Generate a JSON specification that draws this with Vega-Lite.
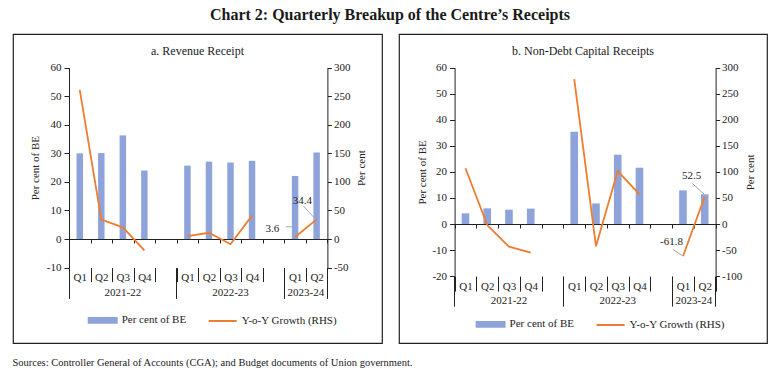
{
  "$schema": "https://vega.github.io/schema/vega-lite/v6.json",
  "background": "white",
  "padding": {"left": 12, "top": 7, "right": 5, "bottom": 5},
  "config": {
    "font": "Liberation Serif",
    "locale": {"number": {"decimal": ".", "thousands": ",", "grouping": [3], "currency": ["", ""], "minus": "-"}},
    "view": {"stroke": "#222", "strokeWidth": 1.2},
    "axis": {"labelFont": "Liberation Serif", "titleFont": "Liberation Serif", "labelFontSize": 11, "titleFontSize": 11, "titleFontWeight": "normal", "labelColor": "#222", "titleColor": "#222", "domainColor": "#222", "tickColor": "#222", "grid": false},
    "legend": {"labelFont": "Liberation Serif", "labelFontSize": 11, "labelColor": "#222"},
    "title": {"font": "Liberation Serif", "color": "#1a1a1a"}
  },
  "title": {"text": "Chart 2: Quarterly Breakup of the Centre’s Receipts", "fontSize": 16, "fontWeight": "bold", "offset": 10, "anchor": "middle"},
  "datasets": {
    "rev": [
      {"slot": 1, "pct": 30.0, "growth": 261, "seg": 1},
      {"slot": 2, "pct": 30.1, "growth": 34, "seg": 1},
      {"slot": 3, "pct": 36.3, "growth": 20.5, "seg": 1},
      {"slot": 4, "pct": 24.0, "growth": -20, "seg": 1},
      {"slot": 6, "pct": 25.7, "growth": 5, "seg": 2},
      {"slot": 7, "pct": 27.1, "growth": 11, "seg": 2},
      {"slot": 8, "pct": 26.8, "growth": -9, "seg": 2},
      {"slot": 9, "pct": 27.4, "growth": 41, "seg": 2},
      {"slot": 11, "pct": 22.1, "growth": 3.6, "seg": 3},
      {"slot": 12, "pct": 30.3, "growth": 34.4, "seg": 3}
    ],
    "ndcr": [
      {"slot": 1, "pct": 4.1, "growth": 107, "seg": 1},
      {"slot": 2, "pct": 6.0, "growth": -2, "seg": 1},
      {"slot": 3, "pct": 5.5, "growth": -43.5, "seg": 1},
      {"slot": 4, "pct": 5.9, "growth": -55, "seg": 1},
      {"slot": 6, "pct": 35.4, "growth": 278, "seg": 2},
      {"slot": 7, "pct": 7.9, "growth": -42.5, "seg": 2},
      {"slot": 8, "pct": 26.6, "growth": 101.7, "seg": 2},
      {"slot": 9, "pct": 21.6, "growth": 57, "seg": 2},
      {"slot": 11, "pct": 12.9, "growth": -61.8, "seg": 3},
      {"slot": 12, "pct": 11.4, "growth": 52.5, "seg": 3}
    ]
  },
  "vconcat": [
    {
      "title": {"text": "Sources: Controller General of Accounts (CGA); and Budget documents of Union government.", "orient": "bottom", "anchor": "start", "fontSize": 10.5, "fontWeight": "normal", "offset": 14},
      "spacing": 15,
      "resolve": {"scale": {"color": "independent"}, "legend": {"color": "independent"}},
      "hconcat": [
        {
          "width": 369,
          "height": 309,
          "title": {"text": "a. Revenue Receipt", "fontSize": 12, "fontWeight": "normal", "offset": -24},
          "data": {"name": "rev"},
          "resolve": {"scale": {"y": "independent"}, "axis": {"x": "independent", "y": "independent"}},
          "layer": [
            {
              "mark": {"type": "bar", "width": {"band": 0.3}},
              "encoding": {
                "x": {"field": "slot", "type": "ordinal", "scale": {"type": "band", "domain": [1,2,3,4,5,6,7,8,9,10,11,12], "range": [56, 314.4], "paddingInner": 0, "paddingOuter": 0},
                  "axis": {"orient": "bottom", "offset": -75.4, "domain": false, "tickBand": "extent", "tickSize": 14, "labelExpr": "['Q1','Q2','Q3','Q4','','Q1','Q2','Q3','Q4','','Q1','Q2'][datum.value-1]", "labelPadding": -10.4, "labelAngle": 0, "title": null}},
                "y": {"field": "pct", "type": "quantitative", "scale": {"domain": [-10, 60], "range": [233.6, 33.7], "nice": false},
                  "axis": {"orient": "left", "offset": -56, "values": [-10,0,10,20,30,40,50,60], "tickSize": 5, "labelPadding": 3, "title": "Per cent of BE", "titlePadding": 6}},
                "color": {"datum": "Per cent of BE", "scale": {"domain": ["Per cent of BE", "Y-o-Y Growth (RHS)"], "range": ["#8FA3DB", "#ED7D31"]},
                  "legend": {"orient": "none", "legendX": 74.7, "legendY": 271, "direction": "horizontal", "title": null, "symbolSize": 784, "columnPadding": 18, "labelOffset": 4,
                    "encode": {"symbols": {"update": {
                      "shape": {"signal": "datum.value === 'Per cent of BE' ? 'M-1,-0.17H1V0.17H-1Z' : 'stroke'"},
                      "fill": {"signal": "datum.value === 'Per cent of BE' ? '#8FA3DB' : 'transparent'"},
                      "stroke": {"signal": "datum.value === 'Per cent of BE' ? 'transparent' : '#ED7D31'"},
                      "strokeWidth": {"value": 2},
                      "opacity": {"value": 1}}}}}}
              }
            },
            {
              "mark": {"type": "line", "strokeWidth": 1.8},
              "encoding": {
                "x": {"field": "slot", "type": "ordinal", "scale": {"type": "band", "domain": [1,2,3,4,5,6,7,8,9,10,11,12], "range": [56, 314.4], "paddingInner": 0, "paddingOuter": 0},
                  "axis": {"orient": "bottom", "offset": -75.4, "domain": false, "values": [1,3,5,8,10,11,12], "bandPosition": 1, "tickExtra": true, "tickSize": 30.8,
                    "tickOpacity": {"condition": {"test": "datum.value == 5 || datum.value == 10 || datum.value == 12 || !isValid(datum.value)", "value": 1}, "value": 0},
                    "labelExpr": "datum.value == 3 ? '2021-22' : datum.value == 8 ? '2022-23' : datum.value == 11 ? '2023-24' : ''",
                    "labelOffset": {"condition": {"test": "datum.value == 11", "value": 10.8}, "value": 0},
                    "labelPadding": -11.7, "labelAngle": 0, "title": null}},
                "y": {"field": "growth", "type": "quantitative", "scale": {"domain": [-50, 300], "range": [233.6, 33.7], "nice": false},
                  "axis": {"orient": "right", "offset": -54.6, "values": [-50,0,50,100,150,200,250,300], "tickSize": 4, "labelPadding": 2, "title": "Per cent", "titlePadding": 6, "titleAngle": 270, "titleBaseline": "top"}},
                "detail": {"field": "seg"},
                "color": {"datum": "Y-o-Y Growth (RHS)"}
              }
            },
            {
              "transform": [{"filter": "datum.slot == 11"}],
              "mark": {"type": "text", "dx": -22.7, "dy": -8, "fontSize": 11, "color": "#222"},
              "encoding": {
                "x": {"field": "slot", "type": "ordinal", "scale": {"type": "band", "domain": [1,2,3,4,5,6,7,8,9,10,11,12], "range": [56, 314.4], "paddingInner": 0, "paddingOuter": 0},
                  "axis": {"orient": "bottom", "offset": -104, "domain": true, "labels": false, "tickBand": "extent", "tickSize": 4, "title": null}},
                "y": {"field": "growth", "type": "quantitative", "scale": {"domain": [-50, 300], "range": [233.6, 33.7], "nice": false}, "axis": null},
                "text": {"field": "growth", "type": "quantitative", "format": ".1f"}
              }
            },
            {
              "transform": [{"filter": "datum.slot == 12"}],
              "mark": {"type": "text", "dx": -14.2, "dy": -18.5, "fontSize": 11, "color": "#222"},
              "encoding": {
                "x": {"field": "slot", "type": "ordinal", "scale": {"type": "band", "domain": [1,2,3,4,5,6,7,8,9,10,11,12], "range": [56, 314.4], "paddingInner": 0, "paddingOuter": 0}, "axis": null},
                "y": {"field": "growth", "type": "quantitative", "scale": {"domain": [-50, 300], "range": [233.6, 33.7], "nice": false}, "axis": null},
                "text": {"field": "growth", "type": "quantitative", "format": ".1f"}
              }
            },
            {
              "transform": [{"filter": "datum.slot == 11"}],
              "mark": {"type": "rule", "color": "#a6a6a6", "strokeWidth": 1, "xOffset": -9.4, "yOffset": -10.2, "x2Offset": -2.7, "y2Offset": -10.2},
              "encoding": {
                "x": {"field": "slot", "type": "ordinal", "scale": {"type": "band", "domain": [1,2,3,4,5,6,7,8,9,10,11,12], "range": [56, 314.4], "paddingInner": 0, "paddingOuter": 0}, "axis": null},
                "x2": {"field": "slot"},
                "y": {"field": "growth", "type": "quantitative", "scale": {"domain": [-50, 300], "range": [233.6, 33.7], "nice": false}, "axis": null},
                "y2": {"field": "growth"}
              }
            },
            {
              "transform": [{"filter": "datum.slot == 12"}],
              "mark": {"type": "rule", "color": "#a6a6a6", "strokeWidth": 1, "xOffset": -13.2, "yOffset": -13.4, "x2Offset": -1.9, "y2Offset": -1},
              "encoding": {
                "x": {"field": "slot", "type": "ordinal", "scale": {"type": "band", "domain": [1,2,3,4,5,6,7,8,9,10,11,12], "range": [56, 314.4], "paddingInner": 0, "paddingOuter": 0}, "axis": null},
                "x2": {"field": "slot"},
                "y": {"field": "growth", "type": "quantitative", "scale": {"domain": [-50, 300], "range": [233.6, 33.7], "nice": false}, "axis": null},
                "y2": {"field": "growth"}
              }
            }
          ]
        },
        {
          "width": 368,
          "height": 309,
          "title": {"text": "b. Non-Debt Capital Receipts", "fontSize": 12, "fontWeight": "normal", "offset": -24},
          "data": {"name": "ndcr"},
          "resolve": {"scale": {"y": "independent"}, "axis": {"x": "independent", "y": "independent"}},
          "layer": [
            {
              "mark": {"type": "bar", "width": {"band": 0.35}},
              "encoding": {
                "x": {"field": "slot", "type": "ordinal", "scale": {"type": "band", "domain": [1,2,3,4,5,6,7,8,9,10,11,12], "range": [55.6, 316.6], "paddingInner": 0, "paddingOuter": 0},
                  "axis": {"orient": "bottom", "offset": -66.9, "domain": false, "tickBand": "extent", "tickSize": 15, "labelExpr": "['Q1','Q2','Q3','Q4','','Q1','Q2','Q3','Q4','','Q1','Q2'][datum.value-1]", "labelPadding": -10.6, "labelAngle": 0, "title": null}},
                "y": {"field": "pct", "type": "quantitative", "scale": {"domain": [-20, 60], "range": [242.1, 33.7], "nice": false},
                  "axis": {"orient": "left", "offset": -55.6, "values": [-20,-10,0,10,20,30,40,50,60], "tickSize": 5, "labelPadding": 3, "title": "Per cent of BE", "titlePadding": 4}},
                "color": {"datum": "Per cent of BE", "scale": {"domain": ["Per cent of BE", "Y-o-Y Growth (RHS)"], "range": ["#8FA3DB", "#ED7D31"]},
                  "legend": {"orient": "none", "legendX": 76.6, "legendY": 275, "direction": "horizontal", "title": null, "symbolSize": 784, "columnPadding": 18, "labelOffset": 4,
                    "encode": {"symbols": {"update": {
                      "shape": {"signal": "datum.value === 'Per cent of BE' ? 'M-1,-0.17H1V0.17H-1Z' : 'stroke'"},
                      "fill": {"signal": "datum.value === 'Per cent of BE' ? '#8FA3DB' : 'transparent'"},
                      "stroke": {"signal": "datum.value === 'Per cent of BE' ? 'transparent' : '#ED7D31'"},
                      "strokeWidth": {"value": 2},
                      "opacity": {"value": 1}}}}}}
              }
            },
            {
              "mark": {"type": "line", "strokeWidth": 1.8},
              "encoding": {
                "x": {"field": "slot", "type": "ordinal", "scale": {"type": "band", "domain": [1,2,3,4,5,6,7,8,9,10,11,12], "range": [55.6, 316.6], "paddingInner": 0, "paddingOuter": 0},
                  "axis": {"orient": "bottom", "offset": -66.9, "domain": false, "values": [1,3,5,8,10,11,12], "bandPosition": 1, "tickExtra": true, "tickSize": 30,
                    "tickOpacity": {"condition": {"test": "datum.value == 5 || datum.value == 10 || datum.value == 12 || !isValid(datum.value)", "value": 1}, "value": 0},
                    "labelExpr": "datum.value == 3 ? '2021-22' : datum.value == 8 ? '2022-23' : datum.value == 11 ? '2023-24' : ''",
                    "labelOffset": {"condition": {"test": "datum.value == 11", "value": 10.9}, "value": 0},
                    "labelPadding": -11.6, "labelAngle": 0, "title": null}},
                "y": {"field": "growth", "type": "quantitative", "scale": {"domain": [-100, 300], "range": [242.1, 33.7], "nice": false},
                  "axis": {"orient": "right", "offset": -51.4, "values": [-100,-50,0,50,100,150,200,250,300], "tickSize": 4, "labelPadding": 2, "title": "Per cent", "titlePadding": 3, "titleAngle": 270, "titleBaseline": "top"}},
                "detail": {"field": "seg"},
                "color": {"datum": "Y-o-Y Growth (RHS)"}
              }
            },
            {
              "transform": [{"filter": "datum.slot == 11"}],
              "mark": {"type": "text", "dx": -11.4, "dy": -14, "fontSize": 11, "color": "#222"},
              "encoding": {
                "x": {"field": "slot", "type": "ordinal", "scale": {"type": "band", "domain": [1,2,3,4,5,6,7,8,9,10,11,12], "range": [55.6, 316.6], "paddingInner": 0, "paddingOuter": 0},
                  "axis": {"orient": "bottom", "offset": -119, "domain": true, "labels": false, "tickBand": "extent", "tickSize": 4, "title": null}},
                "y": {"field": "growth", "type": "quantitative", "scale": {"domain": [-100, 300], "range": [242.1, 33.7], "nice": false}, "axis": null},
                "text": {"field": "growth", "type": "quantitative", "format": ".1f"}
              }
            },
            {
              "transform": [{"filter": "datum.slot == 12"}],
              "mark": {"type": "text", "dx": -13.1, "dy": -20.4, "fontSize": 11, "color": "#222"},
              "encoding": {
                "x": {"field": "slot", "type": "ordinal", "scale": {"type": "band", "domain": [1,2,3,4,5,6,7,8,9,10,11,12], "range": [55.6, 316.6], "paddingInner": 0, "paddingOuter": 0}, "axis": null},
                "y": {"field": "growth", "type": "quantitative", "scale": {"domain": [-100, 300], "range": [242.1, 33.7], "nice": false}, "axis": null},
                "text": {"field": "growth", "type": "quantitative", "format": ".1f"}
              }
            },
            {
              "transform": [{"filter": "datum.slot == 11"}],
              "mark": {"type": "rule", "color": "#a6a6a6", "strokeWidth": 1, "xOffset": -10, "yOffset": -6.8, "x2Offset": -1, "y2Offset": -0.8},
              "encoding": {
                "x": {"field": "slot", "type": "ordinal", "scale": {"type": "band", "domain": [1,2,3,4,5,6,7,8,9,10,11,12], "range": [55.6, 316.6], "paddingInner": 0, "paddingOuter": 0}, "axis": null},
                "x2": {"field": "slot"},
                "y": {"field": "growth", "type": "quantitative", "scale": {"domain": [-100, 300], "range": [242.1, 33.7], "nice": false}, "axis": null},
                "y2": {"field": "growth"}
              }
            },
            {
              "transform": [{"filter": "datum.slot == 12"}],
              "mark": {"type": "rule", "color": "#a6a6a6", "strokeWidth": 1, "xOffset": -12.4, "yOffset": -13.2, "x2Offset": -0.7, "y2Offset": -2.6},
              "encoding": {
                "x": {"field": "slot", "type": "ordinal", "scale": {"type": "band", "domain": [1,2,3,4,5,6,7,8,9,10,11,12], "range": [55.6, 316.6], "paddingInner": 0, "paddingOuter": 0}, "axis": null},
                "x2": {"field": "slot"},
                "y": {"field": "growth", "type": "quantitative", "scale": {"domain": [-100, 300], "range": [242.1, 33.7], "nice": false}, "axis": null},
                "y2": {"field": "growth"}
              }
            }
          ]
        }
      ]
    }
  ]
}
